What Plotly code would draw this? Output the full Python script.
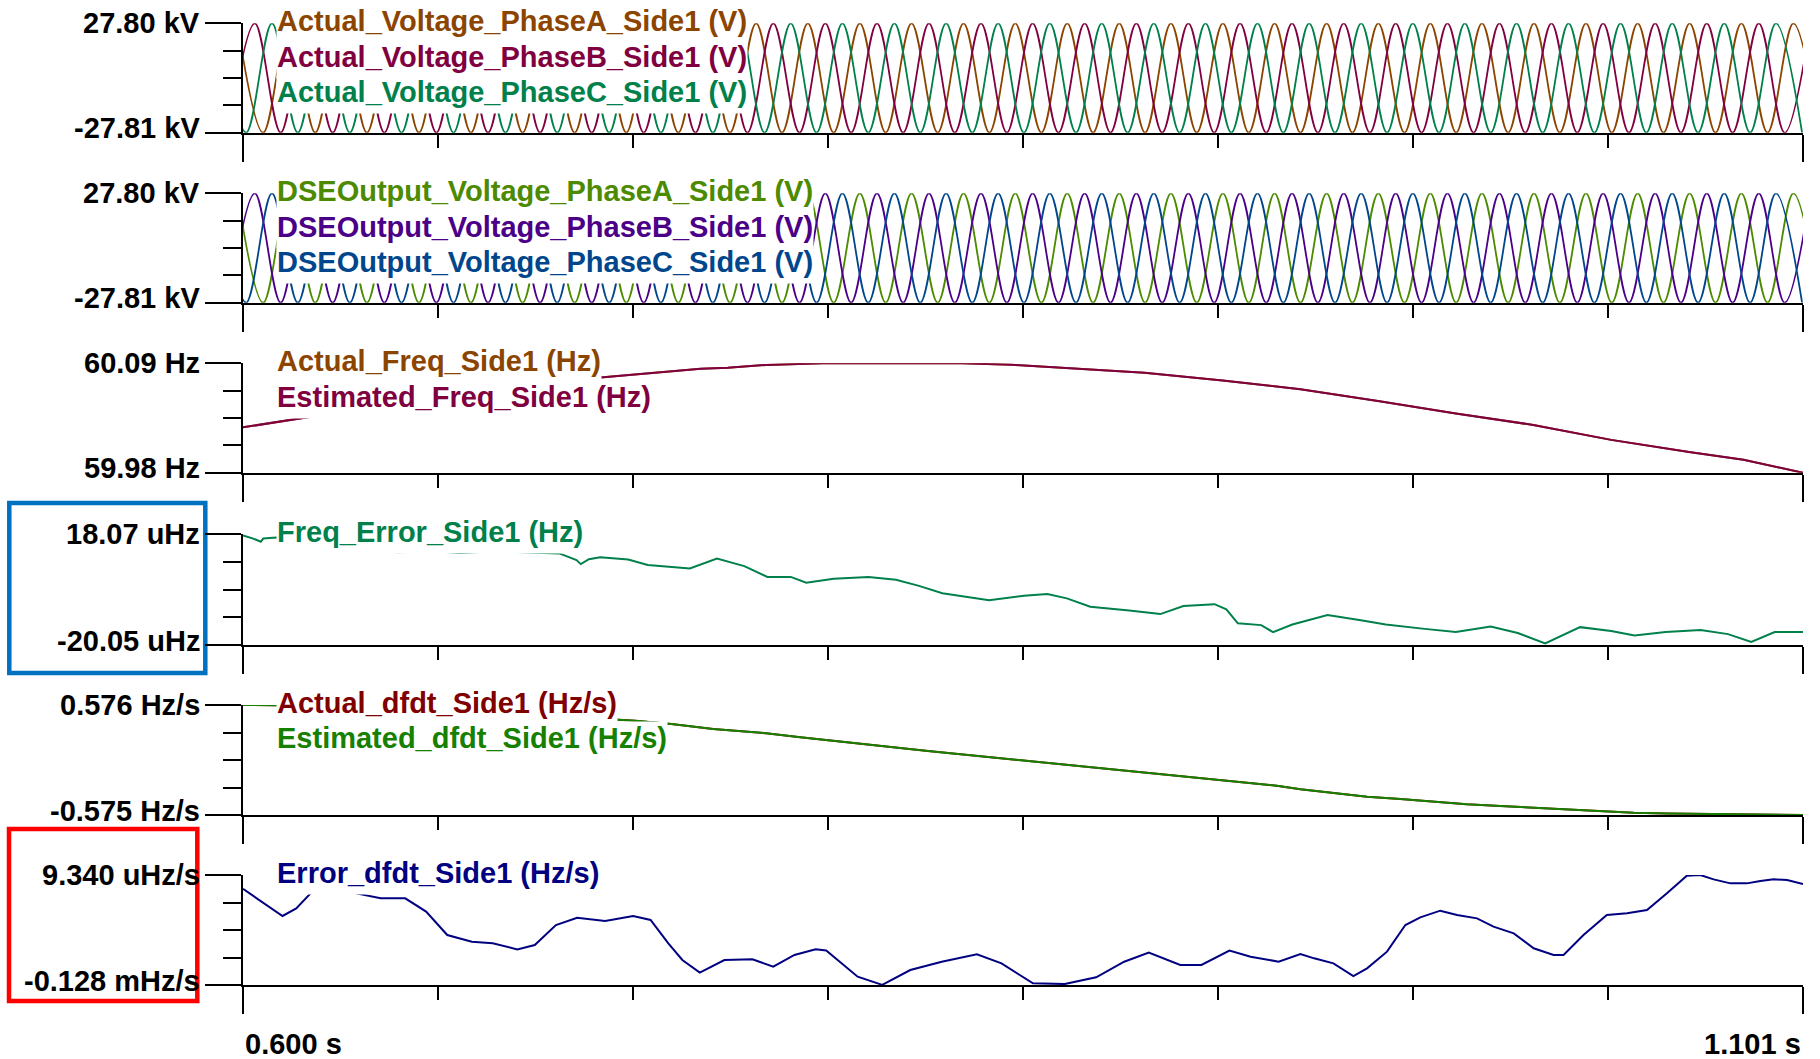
import plotly.graph_objects as go

# ---------------- data ----------------
T0, T1 = 0.600, 1.101
x_tick_text = ["0.600 s", "1.101 s"]

# Voltage waveforms: times (s) of crests / troughs
V_PEAK, V_TROUGH = 27800.0, -27810.0
va_peak_t = [0.5982, 0.6149, 0.6315, 0.6482, 0.6648, 0.6815, 0.6981, 0.7148, 0.7314, 0.7481, 0.7648,
             0.7814, 0.7981, 0.8147, 0.8314, 0.8480, 0.8647, 0.8814, 0.8980, 0.9147, 0.9313, 0.9480,
             0.9646, 0.9813, 0.9979, 1.0146, 1.0313, 1.0479, 1.0646, 1.0812, 1.0979]
va_trough_t = [0.6065, 0.6232, 0.6398, 0.6565, 0.6732, 0.6898, 0.7065, 0.7231, 0.7398, 0.7564, 0.7731,
               0.7897, 0.8064, 0.8231, 0.8397, 0.8564, 0.8730, 0.8897, 0.9063, 0.9230, 0.9396, 0.9563,
               0.9730, 0.9896, 1.0063, 1.0229, 1.0396, 1.0562, 1.0729, 1.0896, 1.1062]
vb_peak_t = [0.6038, 0.6204, 0.6371, 0.6537, 0.6704, 0.6871, 0.7037, 0.7204, 0.7370, 0.7537, 0.7703,
             0.7870, 0.8036, 0.8203, 0.8370, 0.8536, 0.8703, 0.8869, 0.9036, 0.9202, 0.9369, 0.9535,
             0.9702, 0.9868, 1.0035, 1.0202, 1.0368, 1.0535, 1.0701, 1.0868, 1.1034]
vb_trough_t = [0.5955, 0.6121, 0.6288, 0.6454, 0.6621, 0.6787, 0.6954, 0.7120, 0.7287, 0.7453, 0.7620,
               0.7787, 0.7953, 0.8120, 0.8286, 0.8453, 0.8619, 0.8786, 0.8952, 0.9119, 0.9286, 0.9452,
               0.9619, 0.9785, 0.9952, 1.0118, 1.0285, 1.0451, 1.0618, 1.0784, 1.0951]
vc_peak_t = [0.5926, 0.6093, 0.6260, 0.6426, 0.6593, 0.6759, 0.6926, 0.7092, 0.7259, 0.7425, 0.7592,
             0.7759, 0.7925, 0.8092, 0.8258, 0.8425, 0.8591, 0.8758, 0.8925, 0.9091, 0.9258, 0.9424,
             0.9591, 0.9757, 0.9924, 1.0090, 1.0257, 1.0424, 1.0590, 1.0757, 1.0923]
vc_trough_t = [0.6010, 0.6176, 0.6343, 0.6509, 0.6676, 0.6843, 0.7009, 0.7176, 0.7342, 0.7509, 0.7675,
               0.7842, 0.8008, 0.8175, 0.8342, 0.8508, 0.8675, 0.8841, 0.9008, 0.9174, 0.9341, 0.9507,
               0.9674, 0.9841, 1.0007, 1.0174, 1.0340, 1.0507, 1.0673, 1.0840, 1.1007]

# Frequency (Hz)
freq_t = [0.6000, 0.6100, 0.6230, 0.6500, 0.6800, 0.7000, 0.7157, 0.7310, 0.7470, 0.7557, 0.7680,
          0.7860, 0.8100, 0.8310, 0.8470, 0.8680, 0.8895, 0.9146, 0.9396, 0.9645, 0.9895, 1.0144,
          1.0394, 1.0644, 1.0819, 1.1010]
freq_hz = [60.0256, 60.0305, 60.0363, 60.0500, 60.0630, 60.0712, 60.0759, 60.0800, 60.0845, 60.0855,
           60.0884, 60.0900, 60.0900, 60.0900, 60.0885, 60.0845, 60.0804, 60.0728, 60.0638, 60.0520,
           60.0396, 60.0280, 60.0130, 60.0007, 59.9930, 59.9800]

# Frequency error (uHz)
ferr_t = [0.6000, 0.6033, 0.6057, 0.6065, 0.6107, 0.6200, 0.6350, 0.6500, 0.6600, 0.6700, 0.6800,
          0.6900, 0.7016, 0.7071, 0.7085, 0.7111, 0.7147, 0.7237, 0.7300, 0.7435, 0.7522, 0.7610,
          0.7684, 0.7759, 0.7809, 0.7897, 0.8009, 0.8097, 0.8171, 0.8246, 0.8396, 0.8508, 0.8583,
          0.8646, 0.8721, 0.8846, 0.8946, 0.9020, 0.9120, 0.9158, 0.9195, 0.9270, 0.9308, 0.9370,
          0.9483, 0.9595, 0.9670, 0.9795, 0.9895, 1.0007, 1.0094, 1.0182, 1.0294, 1.0394, 1.0469,
          1.0569, 1.0681, 1.0769, 1.0844, 1.0919, 1.1011]
ferr_uhz = [17.7, 16.6, 15.5, 16.6, 17.0, 14.5, 12.6, 11.9, 12.3, 11.6, 12.2,
            11.8, 11.5, 9.2, 7.8, 9.5, 10.2, 9.4, 7.5, 6.3, 9.7, 7.1,
            3.4, 3.4, 1.4, 2.8, 3.4, 2.4, 0.3, -2.2, -4.6, -3.1, -2.5,
            -4.0, -6.9, -8.2, -9.4, -6.6, -6.0, -7.8, -12.6, -13.2, -15.6, -13.0,
            -9.7, -11.6, -13.0, -14.5, -15.6, -13.7, -15.9, -19.5, -13.9, -15.2, -16.8,
            -15.6, -14.9, -16.3, -19.0, -15.6, -15.6]

# df/dt (Hz/s)
dfdt_t = [0.6000, 0.6100, 0.6400, 0.6700, 0.7000, 0.7213, 0.7260, 0.7376, 0.7510, 0.7680, 0.7790,
          0.8200, 0.8575, 0.8948, 0.9320, 0.9396, 0.9502, 0.9610, 0.9717, 0.9824, 0.9930, 1.0038,
          1.0144, 1.0252, 1.0360, 1.0466, 1.0573, 1.0702, 1.0850, 1.1010]
dfdt_hzs = [0.576, 0.574, 0.552, 0.515, 0.462, 0.419, 0.412, 0.377, 0.325, 0.280, 0.238,
            0.095, -0.026, -0.148, -0.269, -0.306, -0.348, -0.384, -0.408, -0.436, -0.463, -0.481,
            -0.499, -0.520, -0.537, -0.551, -0.558, -0.565, -0.570, -0.575]

# df/dt error (uHz/s)
edfdt_t = [0.6000, 0.6059, 0.6127, 0.6171, 0.6217, 0.6280, 0.6352, 0.6442, 0.6521, 0.6588, 0.6656,
           0.6735, 0.6802, 0.6881, 0.6937, 0.7005, 0.7073, 0.7163, 0.7253, 0.7309, 0.7366, 0.7411,
           0.7467, 0.7546, 0.7636, 0.7703, 0.7771, 0.7839, 0.7873, 0.7974, 0.8053, 0.8143, 0.8244,
           0.8357, 0.8436, 0.8537, 0.8639, 0.8740, 0.8830, 0.8909, 0.9010, 0.9078, 0.9168, 0.9236,
           0.9326, 0.9396, 0.9440, 0.9502, 0.9566, 0.9610, 0.9674, 0.9733, 0.9781, 0.9845, 0.9899,
           0.9963, 1.0016, 1.0081, 1.0145, 1.0209, 1.0241, 1.0305, 1.0380, 1.0445, 1.0509, 1.0573,
           1.0637, 1.0680, 1.0723, 1.0777, 1.0830, 1.0873, 1.0916, 1.0959, 1.1010]
edfdt_uhzs = [-8.0, -24.0, -41.8, -32.3, -13.6, -5.0, -12.7, -19.8, -19.8, -36.4, -65.6,
              -73.9, -76.0, -83.5, -78.1, -53.1, -44.0, -48.1, -41.8, -46.8, -76.0, -96.8,
              -112.6, -96.8, -96.0, -105.1, -90.5, -83.5, -85.0, -117.6, -127.8, -109.3, -98.9,
              -89.7, -101.0, -125.9, -126.8, -118.4, -98.9, -87.6, -103.0, -103.0, -85.1, -92.6,
              -98.9, -89.3, -94.7, -101.0, -116.8, -107.2, -86.4, -53.1, -43.5, -35.2, -40.6,
              -44.8, -55.2, -63.5, -82.2, -90.5, -90.5, -65.6, -40.6, -38.5, -34.4, -13.5,
              8.5, 9.34, 3.9, -1.1, -1.1, 1.85, 3.9, 3.1, -1.9]

# Axis limits and their labels (bottom, top)
y_ranges = [(-27810.0, 27800.0), (-27810.0, 27800.0), (59.98, 60.09),
            (-20.05, 18.07), (-0.575, 0.576), (-128.0, 9.34)]
y_tick_text = [("-27.81 kV", "27.80 kV"), ("-27.81 kV", "27.80 kV"), ("59.98 Hz", "60.09 Hz"),
               ("-20.05 uHz", "18.07 uHz"), ("-0.575 Hz/s", "0.576 Hz/s"), ("-0.128 mHz/s", "9.340 uHz/s")]

legend_text = [
    [("Actual_Voltage_PhaseA_Side1 (V)", "#8B4500"), ("Actual_Voltage_PhaseB_Side1 (V)", "#800040"),
     ("Actual_Voltage_PhaseC_Side1 (V)", "#00804A")],
    [("DSEOutput_Voltage_PhaseA_Side1 (V)", "#4C8A00"), ("DSEOutput_Voltage_PhaseB_Side1 (V)", "#4B0088"),
     ("DSEOutput_Voltage_PhaseC_Side1 (V)", "#00468C")],
    [("Actual_Freq_Side1 (Hz)", "#8B4500"), ("Estimated_Freq_Side1 (Hz)", "#800040")],
    [("Freq_Error_Side1 (Hz)", "#00804A")],
    [("Actual_dfdt_Side1 (Hz/s)", "#800000"), ("Estimated_dfdt_Side1 (Hz/s)", "#168000")],
    [("Error_dfdt_Side1 (Hz/s)", "#000080")],
]

# ---------------- helpers ----------------
def wave(peaks, troughs):
    pts = [(t, V_PEAK) for t in peaks] + [(t, V_TROUGH) for t in troughs]
    pts.sort()
    return [p[0] for p in pts], [p[1] for p in pts]

W, H = 1820, 1059
ML = 243
MR = W - 1803
PW = W - ML - MR
FONT = "Liberation Sans, Arial, sans-serif"
# panel tops / bottoms in page pixels
panel_px = [(23.3, 132.7), (193.3, 302.7), (363.3, 472.7), (534.3, 645.0), (705.0, 815.0), (875.0, 985.0)]

def py(p):   # page pixel -> paper y
    return 1 - p / H

def px(p):   # page pixel -> paper x
    return (p - ML) / PW

fig = go.Figure()

def add(i, x, y, color, shape="linear", width=2):
    xa = "x" if i == 1 else f"x{i}"
    ya = "y" if i == 1 else f"y{i}"
    fig.add_trace(go.Scatter(x=x, y=y, mode="lines", xaxis=xa, yaxis=ya, showlegend=False,
                             hoverinfo="skip", line=dict(color=color, width=width, shape=shape)))

wa = wave(va_peak_t, va_trough_t)
wb = wave(vb_peak_t, vb_trough_t)
wc = wave(vc_peak_t, vc_trough_t)
add(1, *wa, "#8B4500", "spline", 1.8)
add(1, *wb, "#800040", "spline", 1.8)
add(1, *wc, "#00804A", "spline", 1.8)
add(2, *wa, "#4C8A00", "spline", 1.8)
add(2, *wb, "#4B0088", "spline", 1.8)
add(2, *wc, "#00468C", "spline", 1.8)
add(3, freq_t, freq_hz, "#8B4500")
add(3, freq_t, freq_hz, "#800040")
add(4, ferr_t, ferr_uhz, "#00804A")
add(5, dfdt_t, dfdt_hzs, "#800000")
add(5, dfdt_t, dfdt_hzs, "#168000")
add(6, edfdt_t, edfdt_uhzs, "#000080")

LABEL_FONT = dict(family=FONT, size=29, color="black", weight="bold")

layout = dict(width=W, height=H, margin=dict(l=ML, r=MR, t=0, b=0, pad=0, autoexpand=False),
              paper_bgcolor="white", plot_bgcolor="white", showlegend=False)
annotations = []
for i in range(1, 7):
    xa = "x" if i == 1 else f"x{i}"
    ya = "y" if i == 1 else f"y{i}"
    top, bot = panel_px[i - 1]
    lo, hi = y_ranges[i - 1]
    q = (hi - lo) / 4.0
    layout[f"xaxis{i}"] = dict(
        domain=[0, 1], anchor=ya, range=[T0, T1], showline=True, linecolor="black", linewidth=2,
        tickmode="array", tickvals=[T0, T1], ticks="outside", ticklen=27, tickwidth=2, tickcolor="black",
        showticklabels=False, showgrid=False, zeroline=False, automargin=False,
        minor=dict(tickmode="linear", tick0=T0, dtick=(T1 - T0) / 8, ticks="outside", ticklen=13,
                   tickwidth=2, tickcolor="black", showgrid=False))
    layout[f"yaxis{i}"] = dict(
        domain=[py(bot), py(top)], anchor=xa, range=[lo, hi], showline=True, linecolor="black",
        linewidth=2, tickmode="array", tickvals=[lo, hi], ticks="outside", ticklen=36, tickwidth=2,
        tickcolor="black", automargin=False, showticklabels=False,
        showgrid=False, zeroline=False,
        minor=dict(tickmode="array", tickvals=[lo + q, lo + 2 * q, lo + 3 * q], ticks="outside",
                   ticklen=18, tickwidth=2, tickcolor="black", showgrid=False))
    # axis end labels (bottom / top) placed at the axis limits
    bot_txt, top_txt = y_tick_text[i - 1]
    annotations.append(dict(text=top_txt, xref=f"{xa} domain", yref=ya, x=0, y=hi, xanchor="right",
                            yanchor="middle", xshift=-41.5, yshift=0.5, showarrow=False, font=LABEL_FONT))
    annotations.append(dict(text=bot_txt, xref=f"{xa} domain", yref=ya, x=0, y=lo, xanchor="right",
                            yanchor="middle", xshift=-41.5, yshift=4.4, showarrow=False, font=LABEL_FONT))
    for k, (txt, col) in enumerate(legend_text[i - 1]):
        annotations.append(dict(
            text=txt, xref=f"{xa} domain", yref=f"{ya} domain", x=0, y=1, xanchor="left",
            yanchor="middle", xshift=33, yshift=-0.4 - 35.4 * k, showarrow=False, bgcolor="white",
            borderpad=0, height=37, valign="top",
            font=dict(family=FONT, size=29, color=col, weight="bold")))

annotations.append(dict(text=x_tick_text[0], xref="x6", yref="paper", x=T0, y=py(1043.5),
                        xanchor="left", yanchor="middle", showarrow=False, font=LABEL_FONT))
annotations.append(dict(text=x_tick_text[1], xref="x6", yref="paper", x=T1, y=py(1043.5),
                        xanchor="right", yanchor="middle", showarrow=False, font=LABEL_FONT))
layout["annotations"] = annotations

layout["shapes"] = [
    dict(type="rect", xref="paper", yref="paper", x0=px(9.3), x1=px(205.3), y0=py(673), y1=py(503),
         line=dict(color="#0070C0", width=4.5), fillcolor="rgba(0,0,0,0)", layer="below"),
    dict(type="rect", xref="paper", yref="paper", x0=px(9), x1=px(197.3), y0=py(1001), y1=py(829),
         line=dict(color="#FF0000", width=4.5), fillcolor="rgba(0,0,0,0)", layer="below"),
]

fig.update_layout(**layout)
fig.write_html("out.html", config={"displayModeBar": False, "staticPlot": True},
               post_script="document.body.style.margin='0';document.body.style.overflow='hidden';")
